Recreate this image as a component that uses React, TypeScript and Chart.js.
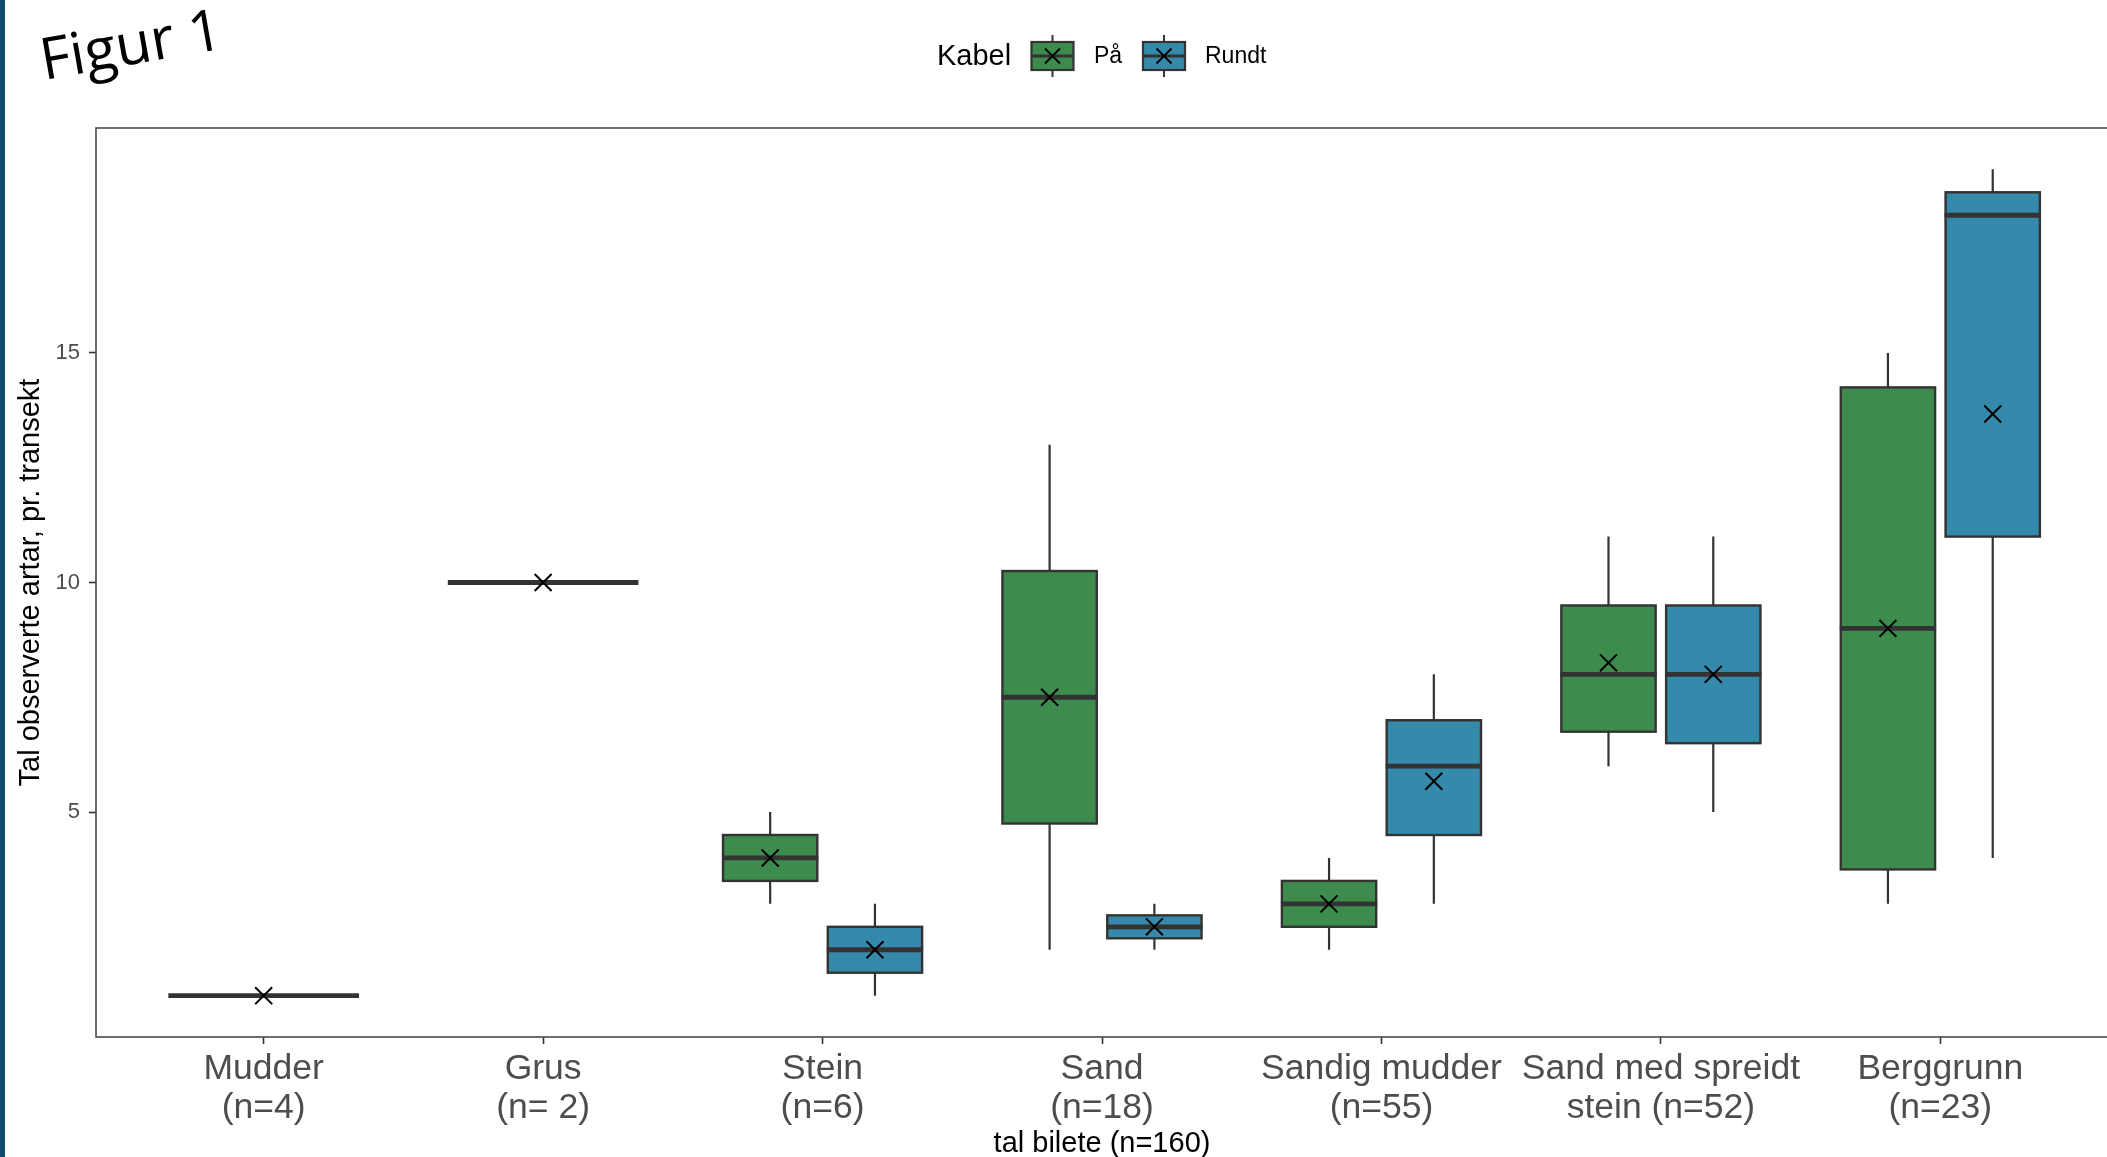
import React, { useEffect, useRef } from "react";
import { Chart, registerables } from "chart.js";

Chart.register(...registerables);

// ---------- data ----------
const categories = ["Mudder", "Grus", "Stein", "Sand", "Sandig mudder", "Sand med spreidt", "Berggrunn"];
const tickLabels = [
  ["Mudder", "(n=4)"],
  ["Grus", "(n= 2)"],
  ["Stein", "(n=6)"],
  ["Sand", "(n=18)"],
  ["Sandig mudder", "(n=55)"],
  ["Sand med spreidt", "stein (n=52)"],
  ["Berggrunn", "(n=23)"],
];
const yTicks = [5, 10, 15];

// Kabel = På
const paMin = [1, 10, 3, 2, 2, 6, 3];
const paQ1 = [1, 10, 3.5, 4.75, 2.5, 6.75, 3.75];
const paMedian = [1, 10, 4, 7.5, 3, 8, 9];
const paQ3 = [1, 10, 4.5, 10.25, 3.5, 9.5, 14.25];
const paMax = [1, 10, 5, 13, 4, 11, 15];
const paMean = [1, 10, 4, 7.5, 3, 8.25, 9];

// Kabel = Rundt
const rundtMin = [null, null, 1, 2, 3, 5, 4];
const rundtQ1 = [null, null, 1.5, 2.25, 4.5, 6.5, 11];
const rundtMedian = [null, null, 2, 2.5, 6, 8, 18];
const rundtQ3 = [null, null, 2.5, 2.75, 7, 9.5, 18.5];
const rundtMax = [null, null, 3, 3, 8, 11, 19];
const rundtMean = [null, null, 2, 2.5, 5.67, 8, 13.67];

// ---------- styles ----------
const GREEN = "#3D8C4D";
const BLUE = "#3589AA";
const EDGE = "#333333";
const FONT = "'Liberation Sans', Arial, sans-serif";
const DODGE = 0.75;
const BOX_FRAC = 0.9;

type Group = {
  name: string;
  color: string;
  min: (number | null)[];
  q1: (number | null)[];
  median: (number | null)[];
  q3: (number | null)[];
  max: (number | null)[];
  mean: (number | null)[];
};

const groups: Group[] = [
  { name: "På", color: GREEN, min: paMin, q1: paQ1, median: paMedian, q3: paQ3, max: paMax, mean: paMean },
  { name: "Rundt", color: BLUE, min: rundtMin, q1: rundtQ1, median: rundtMedian, q3: rundtQ3, max: rundtMax, mean: rundtMean },
];

function isSingle(gi: number, i: number) {
  return groups[1 - gi].median[i] == null;
}
function boxCenter(gi: number, i: number) {
  if (isSingle(gi, i)) return i + 1;
  return i + 1 + (gi === 0 ? -DODGE / 4 : DODGE / 4);
}
function boxHalfWidth(gi: number, i: number) {
  return ((isSingle(gi, i) ? DODGE : DODGE / 2) * BOX_FRAC) / 2;
}

function drawCross(ctx: CanvasRenderingContext2D, cx: number, cy: number, h: number) {
  ctx.beginPath();
  ctx.moveTo(cx - h, cy - h);
  ctx.lineTo(cx + h, cy + h);
  ctx.moveTo(cx - h, cy + h);
  ctx.lineTo(cx + h, cy - h);
  ctx.stroke();
}

const boxPlugin = {
  id: "boxes",
  beforeDraw(chart: any) {
    const { ctx, width, height } = chart;
    ctx.save();
    ctx.fillStyle = "#ffffff";
    ctx.fillRect(0, 0, width, height);
    ctx.fillStyle = "#0F4D6C";
    ctx.fillRect(0, 0, 5, height);
    ctx.restore();
  },
  beforeDatasetsDraw(chart: any) {
    const { ctx, chartArea } = chart;
    const x = chart.scales.x;
    const y = chart.scales.y;
    ctx.save();
    ctx.beginPath();
    ctx.rect(chartArea.left, chartArea.top, chartArea.right - chartArea.left, chartArea.bottom - chartArea.top);
    ctx.clip();
    groups.forEach((g, gi) => {
      categories.forEach((_, i) => {
        const med = g.median[i];
        if (med == null) return;
        const c = boxCenter(gi, i);
        const hw = boxHalfWidth(gi, i);
        const xc = x.getPixelForValue(c);
        const xl = x.getPixelForValue(c - hw);
        const xr = x.getPixelForValue(c + hw);
        const yMin = y.getPixelForValue(g.min[i] as number);
        const yMax = y.getPixelForValue(g.max[i] as number);
        const yQ1 = y.getPixelForValue(g.q1[i] as number);
        const yQ3 = y.getPixelForValue(g.q3[i] as number);
        const yMed = y.getPixelForValue(med);
        // whiskers
        ctx.strokeStyle = EDGE;
        ctx.lineWidth = 2.2;
        ctx.lineCap = "butt";
        ctx.beginPath();
        ctx.moveTo(xc, yMax);
        ctx.lineTo(xc, yQ3);
        ctx.moveTo(xc, yQ1);
        ctx.lineTo(xc, yMin);
        ctx.stroke();
        // box
        ctx.fillStyle = g.color;
        ctx.fillRect(xl, yQ3, xr - xl, yQ1 - yQ3);
        ctx.lineWidth = 2.4;
        ctx.strokeStyle = EDGE;
        ctx.strokeRect(xl, yQ3, xr - xl, yQ1 - yQ3);
        // median
        ctx.lineWidth = 4.8;
        ctx.beginPath();
        ctx.moveTo(xl - 1, yMed);
        ctx.lineTo(xr + 1, yMed);
        ctx.stroke();
      });
    });
    ctx.restore();
  },
  afterDraw(chart: any) {
    const { ctx, chartArea } = chart;
    ctx.save();
    // panel border
    ctx.strokeStyle = "#4a4a4a";
    ctx.lineWidth = 1.6;
    ctx.strokeRect(chartArea.left, chartArea.top, chartArea.right - chartArea.left, chartArea.bottom - chartArea.top);

    // legend
    ctx.fillStyle = "#000";
    ctx.textBaseline = "middle";
    ctx.textAlign = "left";
    ctx.font = `29px ${FONT}`;
    ctx.fillText("Kabel", 937, 57);
    const keys = [
      { x: 1052.5, label: "På", lx: 1094 },
      { x: 1164, label: "Rundt", lx: 1205 },
    ];
    keys.forEach((k, gi) => {
      const cy = 56;
      ctx.strokeStyle = EDGE;
      ctx.lineWidth = 2;
      ctx.beginPath();
      ctx.moveTo(k.x, 35);
      ctx.lineTo(k.x, 77);
      ctx.stroke();
      ctx.fillStyle = groups[gi].color;
      ctx.fillRect(k.x - 21, 42, 42, 28);
      ctx.lineWidth = 2.2;
      ctx.strokeRect(k.x - 21, 42, 42, 28);
      ctx.lineWidth = 3;
      ctx.beginPath();
      ctx.moveTo(k.x - 21, cy);
      ctx.lineTo(k.x + 21, cy);
      ctx.stroke();
      ctx.strokeStyle = "#000";
      ctx.lineWidth = 1.8;
      drawCross(ctx, k.x, cy, 7.5);
      ctx.fillStyle = "#000";
      ctx.font = `23px ${FONT}`;
      ctx.fillText(k.label, k.lx, 57);
    });

    // "Figur 1"
    ctx.save();
    ctx.translate(44, 80);
    ctx.rotate((-10 * Math.PI) / 180);
    ctx.font = `58px 'Open Sans', 'Noto Sans', sans-serif`;
    ctx.fillStyle = "#000";
    ctx.textBaseline = "alphabetic";
    ctx.fillText("Figur 1", 0, 0);
    ctx.restore();
    ctx.restore();
  },
};

export default function App() {
  const canvasRef = useRef<HTMLCanvasElement | null>(null);

  useEffect(() => {
    const canvas = canvasRef.current;
    if (!canvas) return;
    const gridOpts = {
      drawOnChartArea: false,
      drawTicks: true,
      tickLength: 7,
      tickColor: "#333333",
      tickWidth: 1.6,
    };
    const chart = new Chart(canvas, {
      type: "scatter",
      data: {
        datasets: groups.map((g, gi) => ({
          label: g.name,
          data: categories
            .map((_, i) => (g.mean[i] == null ? null : { x: boxCenter(gi, i), y: g.mean[i] as number }))
            .filter((d) => d !== null) as { x: number; y: number }[],
          pointStyle: "crossRot",
          pointRadius: 12,
          pointHoverRadius: 12,
          borderColor: "#000000",
          backgroundColor: "#000000",
          borderWidth: 2,
          showLine: false,
        })),
      },
      options: {
        responsive: false,
        animation: false,
        events: [],
        layout: { autoPadding: false, padding: { left: 0, right: 2, top: 128, bottom: 0 } },
        plugins: {
          legend: { display: false },
          tooltip: { enabled: false },
        },
        scales: {
          x: {
            type: "linear",
            min: 0.4,
            max: 7.6,
            afterFit: (s: any) => {
              s.height = 133;
              s.paddingLeft = 0;
              s.paddingRight = 0;
            },
            afterBuildTicks: (s: any) => {
              s.ticks = categories.map((_, i) => ({ value: i + 1 }));
            },
            ticks: {
              callback: (v: any) => tickLabels[Math.round(Number(v)) - 1],
              autoSkip: false,
              maxRotation: 0,
              minRotation: 0,
              color: "#4D4D4D",
              font: { family: FONT, size: 35.5, lineHeight: 1.1 },
              padding: 6,
            },
            grid: gridOpts,
            border: { display: false },
            title: {
              display: true,
              text: "tal bilete (n=160)",
              color: "#000000",
              font: { family: FONT, size: 29, lineHeight: 1.2 },
              padding: { top: 0, bottom: 9 },
            },
          },
          y: {
            type: "linear",
            min: 0.1,
            max: 19.9,
            afterFit: (s: any) => {
              s.width = 96;
              s.paddingTop = 0;
              s.paddingBottom = 0;
            },
            afterBuildTicks: (s: any) => {
              s.ticks = yTicks.map((v) => ({ value: v }));
            },
            ticks: {
              color: "#4D4D4D",
              font: { family: FONT, size: 22 },
              padding: 9,
            },
            grid: gridOpts,
            border: { display: false },
            title: {
              display: true,
              text: "Tal observerte artar, pr. transekt",
              color: "#000000",
              font: { family: FONT, size: 29, lineHeight: 1.2 },
              padding: { top: 14, bottom: 0 },
            },
          },
        },
      },
      plugins: [boxPlugin],
    } as any);
    return () => chart.destroy();
  }, []);

  return (
    <div
      style={{
        position: "fixed",
        left: 0,
        top: 0,
        width: 2107,
        height: 1157,
        overflow: "hidden",
        background: "#ffffff",
      }}
    >
      <canvas ref={canvasRef} width={2110} height={1170} style={{ display: "block" }} />
    </div>
  );
}
